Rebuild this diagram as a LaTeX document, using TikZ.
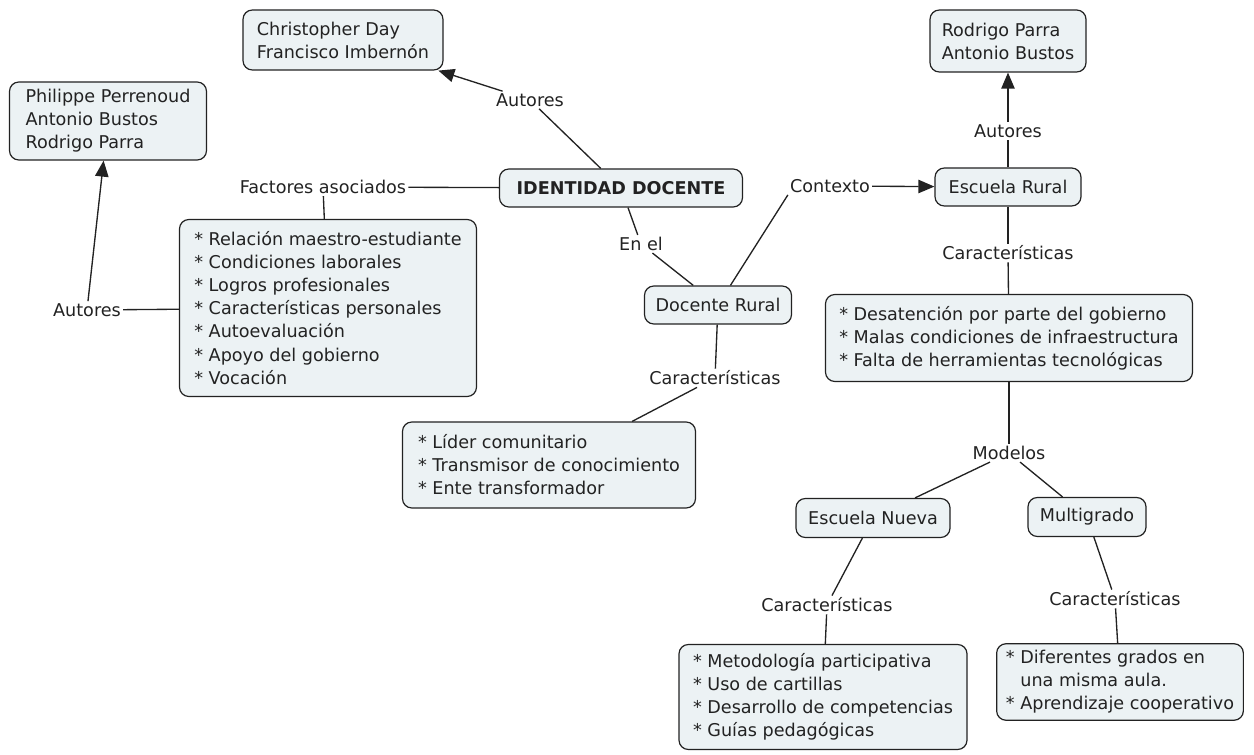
\documentclass[tikz,border=0pt]{standalone}
\usepackage{fontspec}
\setmainfont{DejaVu Sans}
\usepackage{tikz}
\usetikzlibrary{arrows.meta}
\definecolor{boxfill}{HTML}{ECF2F4}
\definecolor{inkline}{HTML}{222222}
\newcommand{\mapfont}{\fontsize{13.2}{17.3}\selectfont}

\tikzset{
  concept/.style={draw=inkline, line width=0.9pt, rounded corners=7pt, fill=boxfill,
    font=\mapfont, text=inkline, inner xsep=7pt, inner ysep=5pt, align=left},
  dims/.style 2 args={minimum width=#1*0.75pt, minimum height=#2*0.75pt},
  linkword/.style={font=\mapfont, text=inkline, inner sep=1.5pt},
  link/.style={draw=inkline, line width=1pt},
  linkarrow/.style={link, -{Triangle[length=12pt,width=10pt]}}
}

\begin{document}
\begin{tikzpicture}[x=0.75pt, y=-0.75pt]
    \useasboundingbox (0,0) rectangle (1254,755);

    % Concepts
    \node[concept, dims={200}{60}] (chris) at (343,40) {Christopher Day\\Francisco Imbernón};
    \node[concept, dims={197}{78}] (phil) at (108,121) {Philippe Perrenoud\\Antonio Bustos\\Rodrigo Parra};
    \node[concept, dims={156}{62}] (rodrigo) at (1008,41) {Rodrigo Parra\\Antonio Bustos};
    \node[concept, dims={243}{38}, font=\mapfont\bfseries] (identidad) at (621,188) {IDENTIDAD DOCENTE};
    \node[concept, dims={146}{38}] (rural) at (1008,187) {Escuela Rural};
    \node[concept, dims={297}{177}] (factores) at (328,308)
      {{*} Relación maestro-estudiante\\{*} Condiciones laborales\\{*} Logros profesionales\\{*} Características personales\\{*} Autoevaluación\\{*} Apoyo del gobierno\\{*} Vocación};
    \node[concept, dims={147}{38}] (docente) at (718,305) {Docente Rural};
    \node[concept, dims={367}{87}] (desat) at (1009,338)
      {{*} Desatención por parte del gobierno\\{*} Malas condiciones de infraestructura\\{*} Falta de herramientas tecnológicas};
    \node[concept, dims={293}{86}] (lider) at (549,465)
      {{*} Líder comunitario\\{*} Transmisor de conocimiento\\{*} Ente transformador};
    \node[concept, dims={154}{39}] (nueva) at (873,518) {Escuela Nueva};
    \node[concept, dims={118}{39}] (multi) at (1087,517) {Multigrado};
    \node[concept, dims={288}{105}] (metod) at (823,697)
      {{*} Metodología participativa\\{*} Uso de cartillas\\{*} Desarrollo de competencias\\{*} Guías pedagógicas};
    \node[concept, dims={243}{75}] (difer) at (1120,682)
      {{*} Diferentes grados en\\\phantom{{*} }una misma aula.\\{*} Aprendizaje cooperativo};

    % Linking phrases
    \node[linkword] (autC) at (530,100) {Autores};
    \node[linkword] (fa) at (323,187) {Factores asociados};
    \node[linkword] (autP) at (87,310) {Autores};
    \node[linkword] (enel) at (641,244) {En el};
    \node[linkword] (contexto) at (830,186) {Contexto};
    \node[linkword] (autR) at (1008,131) {Autores};
    \node[linkword] (carR) at (1008,253) {Características};
    \node[linkword] (carD) at (715,378) {Características};
    \node[linkword] (modelos) at (1009,453) {Modelos};
    \node[linkword] (carN) at (827,605) {Características};
    \node[linkword] (carM) at (1115,599) {Características};

    % Connectors
    \draw[link] (identidad) -- (autC);
    \draw[linkarrow] (autC) -- (chris);
    \draw[link] (identidad) -- (fa);
    \draw[link] (fa) -- (factores);
    \draw[link] (factores) -- (autP);
    \draw[linkarrow] (autP) -- (phil);
    \draw[link] (identidad) -- (enel);
    \draw[link] (enel) -- (docente);
    \draw[link] (docente) -- (contexto.south west);
    \draw[linkarrow] (contexto) -- (rural);
    \draw[link] (rural) -- (autR);
    \draw[linkarrow] (autR) -- (rodrigo);
    \draw[link] (rural) -- (carR);
    \draw[link] (carR) -- (desat);
    \draw[link] (docente) -- (carD);
    \draw[link] (carD) -- (lider);
    \draw[link] (desat) -- (modelos);
    \draw[link] (modelos) -- (nueva);
    \draw[link] (modelos) -- (multi);
    \draw[link] (nueva) -- (carN);
    \draw[link] (carN) -- (metod);
    \draw[link] (multi) -- (carM);
    \draw[link] (carM) -- (difer);

\end{tikzpicture}
\end{document}
